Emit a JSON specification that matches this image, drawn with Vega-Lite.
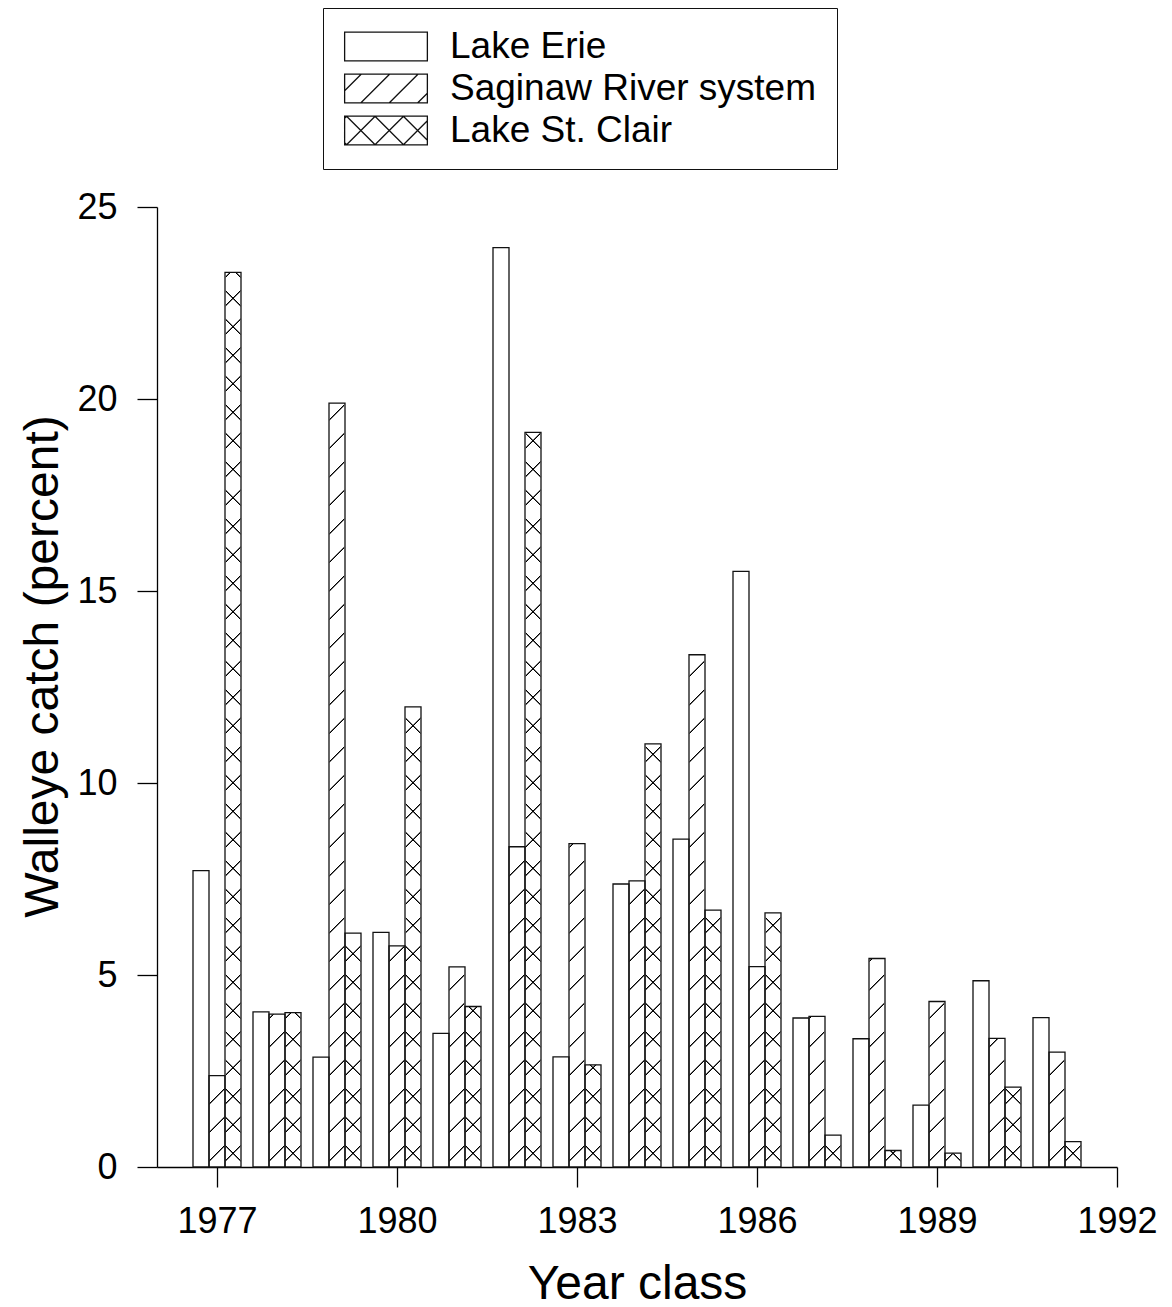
{
 "$schema": "https://vega.github.io/schema/vega-lite/v6.json",
 "width": 960,
 "height": 960,
 "autosize": {"type": "none"},
 "padding": {"left": 157, "top": 207, "right": 55, "bottom": 140},
 "background": "white",
 "config": {
  "view": {"stroke": null},
  "font": "Liberation Sans",
  "axis": {"grid": false, "domainColor": "#000", "domainWidth": 1.3, "tickColor": "#000", "tickWidth": 1.3, "tickSize": 20, "labelFont": "Liberation Sans", "labelFontSize": 36, "labelColor": "#000", "titleFont": "Liberation Sans", "titleFontSize": 48, "titleFontWeight": "normal", "titleColor": "#000", "labelFlush": false, "labelOverlap": false}
 },
 "data": {"values": [
  {"year": 1977, "series": "Lake Erie", "value": 7.72}, {"year": 1977, "series": "Saginaw River system", "value": 2.38}, {"year": 1977, "series": "Lake St. Clair", "value": 23.30},
  {"year": 1978, "series": "Lake Erie", "value": 4.04}, {"year": 1978, "series": "Saginaw River system", "value": 3.98}, {"year": 1978, "series": "Lake St. Clair", "value": 4.02},
  {"year": 1979, "series": "Lake Erie", "value": 2.86}, {"year": 1979, "series": "Saginaw River system", "value": 19.89}, {"year": 1979, "series": "Lake St. Clair", "value": 6.09},
  {"year": 1980, "series": "Lake Erie", "value": 6.11}, {"year": 1980, "series": "Saginaw River system", "value": 5.76}, {"year": 1980, "series": "Lake St. Clair", "value": 11.98},
  {"year": 1981, "series": "Lake Erie", "value": 3.48}, {"year": 1981, "series": "Saginaw River system", "value": 5.21}, {"year": 1981, "series": "Lake St. Clair", "value": 4.18},
  {"year": 1982, "series": "Lake Erie", "value": 23.94}, {"year": 1982, "series": "Saginaw River system", "value": 8.34}, {"year": 1982, "series": "Lake St. Clair", "value": 19.13},
  {"year": 1983, "series": "Lake Erie", "value": 2.87}, {"year": 1983, "series": "Saginaw River system", "value": 8.42}, {"year": 1983, "series": "Lake St. Clair", "value": 2.66},
  {"year": 1984, "series": "Lake Erie", "value": 7.37}, {"year": 1984, "series": "Saginaw River system", "value": 7.45}, {"year": 1984, "series": "Lake St. Clair", "value": 11.02},
  {"year": 1985, "series": "Lake Erie", "value": 8.54}, {"year": 1985, "series": "Saginaw River system", "value": 13.34}, {"year": 1985, "series": "Lake St. Clair", "value": 6.69},
  {"year": 1986, "series": "Lake Erie", "value": 15.51}, {"year": 1986, "series": "Saginaw River system", "value": 5.22}, {"year": 1986, "series": "Lake St. Clair", "value": 6.62},
  {"year": 1987, "series": "Lake Erie", "value": 3.88}, {"year": 1987, "series": "Saginaw River system", "value": 3.92}, {"year": 1987, "series": "Lake St. Clair", "value": 0.83},
  {"year": 1988, "series": "Lake Erie", "value": 3.34}, {"year": 1988, "series": "Saginaw River system", "value": 5.43}, {"year": 1988, "series": "Lake St. Clair", "value": 0.43},
  {"year": 1989, "series": "Lake Erie", "value": 1.61}, {"year": 1989, "series": "Saginaw River system", "value": 4.31}, {"year": 1989, "series": "Lake St. Clair", "value": 0.36},
  {"year": 1990, "series": "Lake Erie", "value": 4.85}, {"year": 1990, "series": "Saginaw River system", "value": 3.35}, {"year": 1990, "series": "Lake St. Clair", "value": 2.08},
  {"year": 1991, "series": "Lake Erie", "value": 3.89}, {"year": 1991, "series": "Saginaw River system", "value": 2.99}, {"year": 1991, "series": "Lake St. Clair", "value": 0.66}
 ]},
 "encoding": {
  "x": {"field": "year", "type": "quantitative", "scale": {"domain": [1976, 1992], "nice": false, "zero": false, "padding": 0},
        "axis": {"values": [1977, 1980, 1983, 1986, 1989, 1992], "format": "d", "title": "Year class", "labelPadding": 17, "titleBaseline": "alphabetic", "titleY": 131}},
  "y": {"field": "value", "type": "quantitative", "scale": {"domain": [0, 25], "nice": false},
        "axis": {"values": [0, 5, 10, 15, 20, 25], "title": "Walleye catch (percent)", "labelPadding": 20, "titleBaseline": "alphabetic", "titleX": -100, "titleY": 459}}
 },
 "layer": [
  {
   "transform": [{"filter": "datum.series === 'Saginaw River system'"}],
   "mark": {"type": "bar", "width": 15, "fill": {"gradient": "linear", "x1": 0, "y1": 0, "x2": 0.016272, "y2": 1.041413, "stops": [
    {"offset":0.01205,"color":"#fff"},{"offset":0.01285,"color":"#000"},{"offset":0.01365,"color":"#000"},{"offset":0.01445,"color":"#fff"},
    {"offset":0.04055,"color":"#fff"},{"offset":0.04135,"color":"#000"},{"offset":0.04215,"color":"#000"},{"offset":0.04295,"color":"#fff"},
    {"offset":0.06905,"color":"#fff"},{"offset":0.06985,"color":"#000"},{"offset":0.07065,"color":"#000"},{"offset":0.07145,"color":"#fff"},
    {"offset":0.09755,"color":"#fff"},{"offset":0.09835,"color":"#000"},{"offset":0.09915,"color":"#000"},{"offset":0.09995,"color":"#fff"},
    {"offset":0.12605,"color":"#fff"},{"offset":0.12685,"color":"#000"},{"offset":0.12765,"color":"#000"},{"offset":0.12845,"color":"#fff"},
    {"offset":0.15455,"color":"#fff"},{"offset":0.15535,"color":"#000"},{"offset":0.15615,"color":"#000"},{"offset":0.15695,"color":"#fff"},
    {"offset":0.18305,"color":"#fff"},{"offset":0.18385,"color":"#000"},{"offset":0.18465,"color":"#000"},{"offset":0.18545,"color":"#fff"},
    {"offset":0.21155,"color":"#fff"},{"offset":0.21235,"color":"#000"},{"offset":0.21315,"color":"#000"},{"offset":0.21395,"color":"#fff"},
    {"offset":0.24005,"color":"#fff"},{"offset":0.24085,"color":"#000"},{"offset":0.24165,"color":"#000"},{"offset":0.24245,"color":"#fff"},
    {"offset":0.26855,"color":"#fff"},{"offset":0.26935,"color":"#000"},{"offset":0.27015,"color":"#000"},{"offset":0.27095,"color":"#fff"},
    {"offset":0.29705,"color":"#fff"},{"offset":0.29785,"color":"#000"},{"offset":0.29865,"color":"#000"},{"offset":0.29945,"color":"#fff"},
    {"offset":0.32555,"color":"#fff"},{"offset":0.32635,"color":"#000"},{"offset":0.32715,"color":"#000"},{"offset":0.32795,"color":"#fff"},
    {"offset":0.35405,"color":"#fff"},{"offset":0.35485,"color":"#000"},{"offset":0.35565,"color":"#000"},{"offset":0.35645,"color":"#fff"},
    {"offset":0.38255,"color":"#fff"},{"offset":0.38335,"color":"#000"},{"offset":0.38415,"color":"#000"},{"offset":0.38495,"color":"#fff"},
    {"offset":0.41105,"color":"#fff"},{"offset":0.41185,"color":"#000"},{"offset":0.41265,"color":"#000"},{"offset":0.41345,"color":"#fff"},
    {"offset":0.43955,"color":"#fff"},{"offset":0.44035,"color":"#000"},{"offset":0.44115,"color":"#000"},{"offset":0.44195,"color":"#fff"},
    {"offset":0.46805,"color":"#fff"},{"offset":0.46885,"color":"#000"},{"offset":0.46965,"color":"#000"},{"offset":0.47045,"color":"#fff"},
    {"offset":0.49655,"color":"#fff"},{"offset":0.49735,"color":"#000"},{"offset":0.49815,"color":"#000"},{"offset":0.49895,"color":"#fff"},
    {"offset":0.52505,"color":"#fff"},{"offset":0.52585,"color":"#000"},{"offset":0.52665,"color":"#000"},{"offset":0.52745,"color":"#fff"},
    {"offset":0.55355,"color":"#fff"},{"offset":0.55435,"color":"#000"},{"offset":0.55515,"color":"#000"},{"offset":0.55595,"color":"#fff"},
    {"offset":0.58205,"color":"#fff"},{"offset":0.58285,"color":"#000"},{"offset":0.58365,"color":"#000"},{"offset":0.58445,"color":"#fff"},
    {"offset":0.61055,"color":"#fff"},{"offset":0.61135,"color":"#000"},{"offset":0.61215,"color":"#000"},{"offset":0.61295,"color":"#fff"},
    {"offset":0.63905,"color":"#fff"},{"offset":0.63985,"color":"#000"},{"offset":0.64065,"color":"#000"},{"offset":0.64145,"color":"#fff"},
    {"offset":0.66755,"color":"#fff"},{"offset":0.66835,"color":"#000"},{"offset":0.66915,"color":"#000"},{"offset":0.66995,"color":"#fff"},
    {"offset":0.69605,"color":"#fff"},{"offset":0.69685,"color":"#000"},{"offset":0.69765,"color":"#000"},{"offset":0.69845,"color":"#fff"},
    {"offset":0.72455,"color":"#fff"},{"offset":0.72535,"color":"#000"},{"offset":0.72615,"color":"#000"},{"offset":0.72695,"color":"#fff"},
    {"offset":0.75305,"color":"#fff"},{"offset":0.75385,"color":"#000"},{"offset":0.75465,"color":"#000"},{"offset":0.75545,"color":"#fff"},
    {"offset":0.78155,"color":"#fff"},{"offset":0.78235,"color":"#000"},{"offset":0.78315,"color":"#000"},{"offset":0.78395,"color":"#fff"},
    {"offset":0.81005,"color":"#fff"},{"offset":0.81085,"color":"#000"},{"offset":0.81165,"color":"#000"},{"offset":0.81245,"color":"#fff"},
    {"offset":0.83855,"color":"#fff"},{"offset":0.83935,"color":"#000"},{"offset":0.84015,"color":"#000"},{"offset":0.84095,"color":"#fff"},
    {"offset":0.86705,"color":"#fff"},{"offset":0.86785,"color":"#000"},{"offset":0.86865,"color":"#000"},{"offset":0.86945,"color":"#fff"},
    {"offset":0.89555,"color":"#fff"},{"offset":0.89635,"color":"#000"},{"offset":0.89715,"color":"#000"},{"offset":0.89795,"color":"#fff"},
    {"offset":0.92405,"color":"#fff"},{"offset":0.92485,"color":"#000"},{"offset":0.92565,"color":"#000"},{"offset":0.92645,"color":"#fff"},
    {"offset":0.95255,"color":"#fff"},{"offset":0.95335,"color":"#000"},{"offset":0.95415,"color":"#000"},{"offset":0.95495,"color":"#fff"}
   ]}},
   "encoding": {"y": {"datum": 25, "type": "quantitative"}, "y2": {"datum": 0}}
  },
  {
   "transform": [{"filter": "datum.series === 'Lake St. Clair'"}],
   "mark": {"type": "bar", "width": 15, "xOffset": 16, "fill": {"gradient": "linear", "x1": 0, "y1": 0, "x2": 0.016272, "y2": 1.041413, "stops": [
    {"offset":0.01205,"color":"#fff"},{"offset":0.01285,"color":"#000"},{"offset":0.01365,"color":"#000"},{"offset":0.01445,"color":"#fff"},
    {"offset":0.04055,"color":"#fff"},{"offset":0.04135,"color":"#000"},{"offset":0.04215,"color":"#000"},{"offset":0.04295,"color":"#fff"},
    {"offset":0.06905,"color":"#fff"},{"offset":0.06985,"color":"#000"},{"offset":0.07065,"color":"#000"},{"offset":0.07145,"color":"#fff"},
    {"offset":0.09755,"color":"#fff"},{"offset":0.09835,"color":"#000"},{"offset":0.09915,"color":"#000"},{"offset":0.09995,"color":"#fff"},
    {"offset":0.12605,"color":"#fff"},{"offset":0.12685,"color":"#000"},{"offset":0.12765,"color":"#000"},{"offset":0.12845,"color":"#fff"},
    {"offset":0.15455,"color":"#fff"},{"offset":0.15535,"color":"#000"},{"offset":0.15615,"color":"#000"},{"offset":0.15695,"color":"#fff"},
    {"offset":0.18305,"color":"#fff"},{"offset":0.18385,"color":"#000"},{"offset":0.18465,"color":"#000"},{"offset":0.18545,"color":"#fff"},
    {"offset":0.21155,"color":"#fff"},{"offset":0.21235,"color":"#000"},{"offset":0.21315,"color":"#000"},{"offset":0.21395,"color":"#fff"},
    {"offset":0.24005,"color":"#fff"},{"offset":0.24085,"color":"#000"},{"offset":0.24165,"color":"#000"},{"offset":0.24245,"color":"#fff"},
    {"offset":0.26855,"color":"#fff"},{"offset":0.26935,"color":"#000"},{"offset":0.27015,"color":"#000"},{"offset":0.27095,"color":"#fff"},
    {"offset":0.29705,"color":"#fff"},{"offset":0.29785,"color":"#000"},{"offset":0.29865,"color":"#000"},{"offset":0.29945,"color":"#fff"},
    {"offset":0.32555,"color":"#fff"},{"offset":0.32635,"color":"#000"},{"offset":0.32715,"color":"#000"},{"offset":0.32795,"color":"#fff"},
    {"offset":0.35405,"color":"#fff"},{"offset":0.35485,"color":"#000"},{"offset":0.35565,"color":"#000"},{"offset":0.35645,"color":"#fff"},
    {"offset":0.38255,"color":"#fff"},{"offset":0.38335,"color":"#000"},{"offset":0.38415,"color":"#000"},{"offset":0.38495,"color":"#fff"},
    {"offset":0.41105,"color":"#fff"},{"offset":0.41185,"color":"#000"},{"offset":0.41265,"color":"#000"},{"offset":0.41345,"color":"#fff"},
    {"offset":0.43955,"color":"#fff"},{"offset":0.44035,"color":"#000"},{"offset":0.44115,"color":"#000"},{"offset":0.44195,"color":"#fff"},
    {"offset":0.46805,"color":"#fff"},{"offset":0.46885,"color":"#000"},{"offset":0.46965,"color":"#000"},{"offset":0.47045,"color":"#fff"},
    {"offset":0.49655,"color":"#fff"},{"offset":0.49735,"color":"#000"},{"offset":0.49815,"color":"#000"},{"offset":0.49895,"color":"#fff"},
    {"offset":0.52505,"color":"#fff"},{"offset":0.52585,"color":"#000"},{"offset":0.52665,"color":"#000"},{"offset":0.52745,"color":"#fff"},
    {"offset":0.55355,"color":"#fff"},{"offset":0.55435,"color":"#000"},{"offset":0.55515,"color":"#000"},{"offset":0.55595,"color":"#fff"},
    {"offset":0.58205,"color":"#fff"},{"offset":0.58285,"color":"#000"},{"offset":0.58365,"color":"#000"},{"offset":0.58445,"color":"#fff"},
    {"offset":0.61055,"color":"#fff"},{"offset":0.61135,"color":"#000"},{"offset":0.61215,"color":"#000"},{"offset":0.61295,"color":"#fff"},
    {"offset":0.63905,"color":"#fff"},{"offset":0.63985,"color":"#000"},{"offset":0.64065,"color":"#000"},{"offset":0.64145,"color":"#fff"},
    {"offset":0.66755,"color":"#fff"},{"offset":0.66835,"color":"#000"},{"offset":0.66915,"color":"#000"},{"offset":0.66995,"color":"#fff"},
    {"offset":0.69605,"color":"#fff"},{"offset":0.69685,"color":"#000"},{"offset":0.69765,"color":"#000"},{"offset":0.69845,"color":"#fff"},
    {"offset":0.72455,"color":"#fff"},{"offset":0.72535,"color":"#000"},{"offset":0.72615,"color":"#000"},{"offset":0.72695,"color":"#fff"},
    {"offset":0.75305,"color":"#fff"},{"offset":0.75385,"color":"#000"},{"offset":0.75465,"color":"#000"},{"offset":0.75545,"color":"#fff"},
    {"offset":0.78155,"color":"#fff"},{"offset":0.78235,"color":"#000"},{"offset":0.78315,"color":"#000"},{"offset":0.78395,"color":"#fff"},
    {"offset":0.81005,"color":"#fff"},{"offset":0.81085,"color":"#000"},{"offset":0.81165,"color":"#000"},{"offset":0.81245,"color":"#fff"},
    {"offset":0.83855,"color":"#fff"},{"offset":0.83935,"color":"#000"},{"offset":0.84015,"color":"#000"},{"offset":0.84095,"color":"#fff"},
    {"offset":0.86705,"color":"#fff"},{"offset":0.86785,"color":"#000"},{"offset":0.86865,"color":"#000"},{"offset":0.86945,"color":"#fff"},
    {"offset":0.89555,"color":"#fff"},{"offset":0.89635,"color":"#000"},{"offset":0.89715,"color":"#000"},{"offset":0.89795,"color":"#fff"},
    {"offset":0.92405,"color":"#fff"},{"offset":0.92485,"color":"#000"},{"offset":0.92565,"color":"#000"},{"offset":0.92645,"color":"#fff"},
    {"offset":0.95255,"color":"#fff"},{"offset":0.95335,"color":"#000"},{"offset":0.95415,"color":"#000"},{"offset":0.95495,"color":"#fff"}
   ]}},
   "encoding": {"y": {"datum": 25, "type": "quantitative"}, "y2": {"datum": 0}}
  },
  {
   "transform": [{"filter": "datum.series === 'Lake St. Clair'"}],
   "mark": {"type": "bar", "width": 15, "xOffset": 16, "fill": {"gradient": "linear", "x1": 1, "y1": 0, "x2": 0.983728, "y2": 1.041413, "stops": [
    {"offset":0.01205,"color":"rgba(0,0,0,0)"},{"offset":0.01285,"color":"#000"},{"offset":0.01365,"color":"#000"},{"offset":0.01445,"color":"rgba(0,0,0,0)"},
    {"offset":0.04055,"color":"rgba(0,0,0,0)"},{"offset":0.04135,"color":"#000"},{"offset":0.04215,"color":"#000"},{"offset":0.04295,"color":"rgba(0,0,0,0)"},
    {"offset":0.06905,"color":"rgba(0,0,0,0)"},{"offset":0.06985,"color":"#000"},{"offset":0.07065,"color":"#000"},{"offset":0.07145,"color":"rgba(0,0,0,0)"},
    {"offset":0.09755,"color":"rgba(0,0,0,0)"},{"offset":0.09835,"color":"#000"},{"offset":0.09915,"color":"#000"},{"offset":0.09995,"color":"rgba(0,0,0,0)"},
    {"offset":0.12605,"color":"rgba(0,0,0,0)"},{"offset":0.12685,"color":"#000"},{"offset":0.12765,"color":"#000"},{"offset":0.12845,"color":"rgba(0,0,0,0)"},
    {"offset":0.15455,"color":"rgba(0,0,0,0)"},{"offset":0.15535,"color":"#000"},{"offset":0.15615,"color":"#000"},{"offset":0.15695,"color":"rgba(0,0,0,0)"},
    {"offset":0.18305,"color":"rgba(0,0,0,0)"},{"offset":0.18385,"color":"#000"},{"offset":0.18465,"color":"#000"},{"offset":0.18545,"color":"rgba(0,0,0,0)"},
    {"offset":0.21155,"color":"rgba(0,0,0,0)"},{"offset":0.21235,"color":"#000"},{"offset":0.21315,"color":"#000"},{"offset":0.21395,"color":"rgba(0,0,0,0)"},
    {"offset":0.24005,"color":"rgba(0,0,0,0)"},{"offset":0.24085,"color":"#000"},{"offset":0.24165,"color":"#000"},{"offset":0.24245,"color":"rgba(0,0,0,0)"},
    {"offset":0.26855,"color":"rgba(0,0,0,0)"},{"offset":0.26935,"color":"#000"},{"offset":0.27015,"color":"#000"},{"offset":0.27095,"color":"rgba(0,0,0,0)"},
    {"offset":0.29705,"color":"rgba(0,0,0,0)"},{"offset":0.29785,"color":"#000"},{"offset":0.29865,"color":"#000"},{"offset":0.29945,"color":"rgba(0,0,0,0)"},
    {"offset":0.32555,"color":"rgba(0,0,0,0)"},{"offset":0.32635,"color":"#000"},{"offset":0.32715,"color":"#000"},{"offset":0.32795,"color":"rgba(0,0,0,0)"},
    {"offset":0.35405,"color":"rgba(0,0,0,0)"},{"offset":0.35485,"color":"#000"},{"offset":0.35565,"color":"#000"},{"offset":0.35645,"color":"rgba(0,0,0,0)"},
    {"offset":0.38255,"color":"rgba(0,0,0,0)"},{"offset":0.38335,"color":"#000"},{"offset":0.38415,"color":"#000"},{"offset":0.38495,"color":"rgba(0,0,0,0)"},
    {"offset":0.41105,"color":"rgba(0,0,0,0)"},{"offset":0.41185,"color":"#000"},{"offset":0.41265,"color":"#000"},{"offset":0.41345,"color":"rgba(0,0,0,0)"},
    {"offset":0.43955,"color":"rgba(0,0,0,0)"},{"offset":0.44035,"color":"#000"},{"offset":0.44115,"color":"#000"},{"offset":0.44195,"color":"rgba(0,0,0,0)"},
    {"offset":0.46805,"color":"rgba(0,0,0,0)"},{"offset":0.46885,"color":"#000"},{"offset":0.46965,"color":"#000"},{"offset":0.47045,"color":"rgba(0,0,0,0)"},
    {"offset":0.49655,"color":"rgba(0,0,0,0)"},{"offset":0.49735,"color":"#000"},{"offset":0.49815,"color":"#000"},{"offset":0.49895,"color":"rgba(0,0,0,0)"},
    {"offset":0.52505,"color":"rgba(0,0,0,0)"},{"offset":0.52585,"color":"#000"},{"offset":0.52665,"color":"#000"},{"offset":0.52745,"color":"rgba(0,0,0,0)"},
    {"offset":0.55355,"color":"rgba(0,0,0,0)"},{"offset":0.55435,"color":"#000"},{"offset":0.55515,"color":"#000"},{"offset":0.55595,"color":"rgba(0,0,0,0)"},
    {"offset":0.58205,"color":"rgba(0,0,0,0)"},{"offset":0.58285,"color":"#000"},{"offset":0.58365,"color":"#000"},{"offset":0.58445,"color":"rgba(0,0,0,0)"},
    {"offset":0.61055,"color":"rgba(0,0,0,0)"},{"offset":0.61135,"color":"#000"},{"offset":0.61215,"color":"#000"},{"offset":0.61295,"color":"rgba(0,0,0,0)"},
    {"offset":0.63905,"color":"rgba(0,0,0,0)"},{"offset":0.63985,"color":"#000"},{"offset":0.64065,"color":"#000"},{"offset":0.64145,"color":"rgba(0,0,0,0)"},
    {"offset":0.66755,"color":"rgba(0,0,0,0)"},{"offset":0.66835,"color":"#000"},{"offset":0.66915,"color":"#000"},{"offset":0.66995,"color":"rgba(0,0,0,0)"},
    {"offset":0.69605,"color":"rgba(0,0,0,0)"},{"offset":0.69685,"color":"#000"},{"offset":0.69765,"color":"#000"},{"offset":0.69845,"color":"rgba(0,0,0,0)"},
    {"offset":0.72455,"color":"rgba(0,0,0,0)"},{"offset":0.72535,"color":"#000"},{"offset":0.72615,"color":"#000"},{"offset":0.72695,"color":"rgba(0,0,0,0)"},
    {"offset":0.75305,"color":"rgba(0,0,0,0)"},{"offset":0.75385,"color":"#000"},{"offset":0.75465,"color":"#000"},{"offset":0.75545,"color":"rgba(0,0,0,0)"},
    {"offset":0.78155,"color":"rgba(0,0,0,0)"},{"offset":0.78235,"color":"#000"},{"offset":0.78315,"color":"#000"},{"offset":0.78395,"color":"rgba(0,0,0,0)"},
    {"offset":0.81005,"color":"rgba(0,0,0,0)"},{"offset":0.81085,"color":"#000"},{"offset":0.81165,"color":"#000"},{"offset":0.81245,"color":"rgba(0,0,0,0)"},
    {"offset":0.83855,"color":"rgba(0,0,0,0)"},{"offset":0.83935,"color":"#000"},{"offset":0.84015,"color":"#000"},{"offset":0.84095,"color":"rgba(0,0,0,0)"},
    {"offset":0.86705,"color":"rgba(0,0,0,0)"},{"offset":0.86785,"color":"#000"},{"offset":0.86865,"color":"#000"},{"offset":0.86945,"color":"rgba(0,0,0,0)"},
    {"offset":0.89555,"color":"rgba(0,0,0,0)"},{"offset":0.89635,"color":"#000"},{"offset":0.89715,"color":"#000"},{"offset":0.89795,"color":"rgba(0,0,0,0)"},
    {"offset":0.92405,"color":"rgba(0,0,0,0)"},{"offset":0.92485,"color":"#000"},{"offset":0.92565,"color":"#000"},{"offset":0.92645,"color":"rgba(0,0,0,0)"},
    {"offset":0.95255,"color":"rgba(0,0,0,0)"},{"offset":0.95335,"color":"#000"},{"offset":0.95415,"color":"#000"},{"offset":0.95495,"color":"rgba(0,0,0,0)"}
   ]}},
   "encoding": {"y": {"datum": 25, "type": "quantitative"}, "y2": {"datum": 0}}
  },
  {
   "transform": [{"filter": "datum.series === 'Saginaw River system'"}],
   "mark": {"type": "bar", "width": 17, "fill": "#fff"},
   "encoding": {"y2": {"datum": 25}}
  },
  {
   "transform": [{"filter": "datum.series === 'Lake St. Clair'"}],
   "mark": {"type": "bar", "width": 17, "xOffset": 16, "fill": "#fff"},
   "encoding": {"y2": {"datum": 25}}
  },
  {
   "transform": [{"filter": "datum.series === 'Lake Erie'"}],
   "mark": {"type": "bar", "width": 16, "xOffset": -16, "fill": "#fff", "stroke": "#111", "strokeWidth": 1.3},
   "encoding": {"y2": {"datum": 0}}
  },
  {
   "transform": [{"filter": "datum.series === 'Saginaw River system'"}],
   "mark": {"type": "bar", "width": 16, "fill": "#fff", "fillOpacity": 0, "stroke": "#111", "strokeWidth": 1.3},
   "encoding": {"y2": {"datum": 0}}
  },
  {
   "transform": [{"filter": "datum.series === 'Lake St. Clair'"}],
   "mark": {"type": "bar", "width": 16, "xOffset": 16, "fill": "#fff", "fillOpacity": 0, "stroke": "#111", "strokeWidth": 1.3},
   "encoding": {"y2": {"datum": 0}}
  },
  {
   "mark": {"type": "point", "filled": false, "opacity": 0, "color": "#111", "strokeWidth": 1.3},
   "encoding": {
    "shape": {"field": "series", "type": "nominal",
     "scale": {"domain": ["Lake Erie", "Saginaw River system", "Lake St. Clair"],
      "range": [
       "M-0.985,-0.34H0.985V0.34H-0.985Z",
       "M-0.985,-0.34H0.985V0.34H-0.985Z M-0.985,0.0529L-0.5921,-0.34 M-0.596,0.34L0.084,-0.34 M0.0802,0.34L0.7602,-0.34 M0.7564,0.34L0.985,0.1114",
       "M-0.985,-0.34H0.985V0.34H-0.985Z M-0.985,-0.29L-0.935,-0.34 M-0.9388,0.34L-0.2588,-0.34 M-0.2626,0.34L0.4174,-0.34 M0.4136,0.34L0.985,-0.2314 M-0.985,0.29L-0.935,0.34 M-0.9388,-0.34L-0.2588,0.34 M-0.2626,-0.34L0.4174,0.34 M0.4136,-0.34L0.985,0.2314"
      ]},
     "legend": {"title": null, "orient": "none", "legendX": 166, "legendY": -199, "padding": 20, "strokeColor": "#111",
      "symbolSize": 7056, "symbolStrokeColor": "#111", "symbolStrokeWidth": 1.3, "symbolFillColor": "#fff", "symbolOpacity": 1,
      "clipHeight": 37, "rowPadding": 4, "labelFont": "Liberation Sans", "labelFontSize": 37, "labelColor": "#000", "labelOffset": 21, "labelLimit": 1000}}
   }
  }
 ]
}
